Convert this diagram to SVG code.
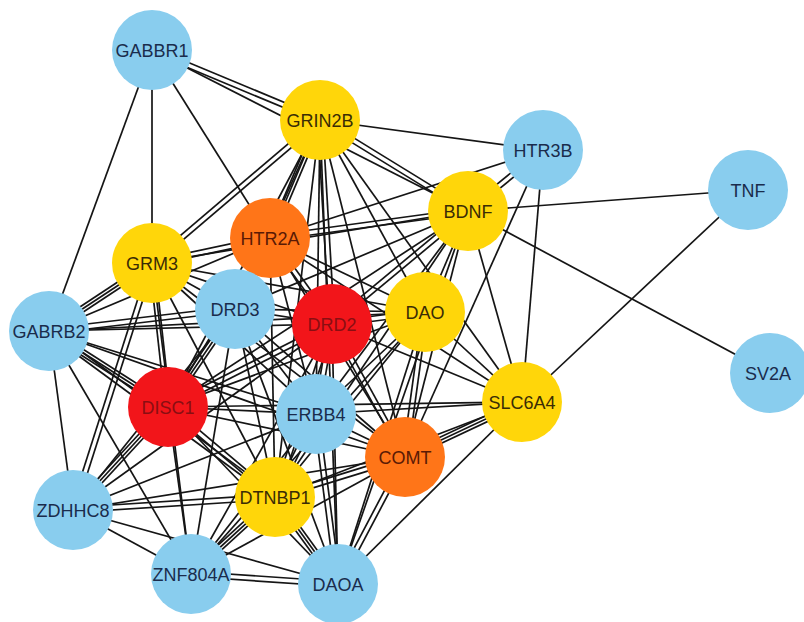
<svg xmlns="http://www.w3.org/2000/svg" width="804" height="622" viewBox="0 0 804 622">
<style>
.e line{stroke:#151515;stroke-width:1.7;fill:none}
.n circle{stroke:none}
.b circle{fill:#89CDEE}
.y circle{fill:#FFD60A}
.o circle{fill:#FF7518}
.r circle{fill:#F2151A}
.n text{font-family:"Liberation Sans",Arial,sans-serif;font-size:18px;text-anchor:middle}
.b text{fill:#1A2C4C}
.y text{fill:#3A2C05}
.o text{fill:#5A1A05}
.r text{fill:#8A0E12}
</style>
<rect width="804" height="622" fill="#ffffff"/>
<g id="edges" class="e">
<!-- multi edges -->
<line x1="151.0" y1="52.3" x2="319.0" y2="122.3"/><line x1="153.0" y1="47.7" x2="321.0" y2="117.7"/>
<line x1="318.4" y1="118.1" x2="150.4" y2="261.1"/><line x1="321.6" y1="121.9" x2="153.6" y2="264.9"/>
<line x1="320" y1="120" x2="270" y2="238"/><line x1="317.2" y1="118.8" x2="267.2" y2="236.8"/><line x1="322.8" y1="121.2" x2="272.8" y2="239.2"/>
<line x1="317.5" y1="120.1" x2="329.5" y2="324.1"/><line x1="322.5" y1="119.9" x2="334.5" y2="323.9"/>
<line x1="318.7" y1="122.1" x2="466.7" y2="213.1"/><line x1="321.3" y1="117.9" x2="469.3" y2="208.9"/>
<line x1="541.4" y1="148.1" x2="466.4" y2="209.1"/><line x1="544.6" y1="151.9" x2="469.6" y2="212.9"/>
<line x1="467.7" y1="208.5" x2="269.7" y2="235.5"/><line x1="468.3" y1="213.5" x2="270.3" y2="240.5"/>
<line x1="466.4" y1="209.1" x2="330.4" y2="322.1"/><line x1="469.6" y1="212.9" x2="333.6" y2="325.9"/>
<line x1="269.5" y1="235.6" x2="151.5" y2="260.6"/><line x1="270.5" y1="240.4" x2="152.5" y2="265.4"/>
<line x1="268.0" y1="239.5" x2="330.0" y2="325.5"/><line x1="272.0" y1="236.5" x2="334.0" y2="322.5"/>
<line x1="152" y1="263" x2="49" y2="331"/><line x1="150.3" y1="260.5" x2="47.3" y2="328.5"/><line x1="153.7" y1="265.5" x2="50.7" y2="333.5"/>
<line x1="149.5" y1="263.3" x2="165.5" y2="407.3"/><line x1="154.5" y1="262.7" x2="170.5" y2="406.7"/>
<line x1="149.6" y1="262.2" x2="70.6" y2="509.2"/><line x1="154.4" y1="263.8" x2="75.4" y2="510.8"/>
<line x1="234.7" y1="306.5" x2="48.7" y2="328.5"/><line x1="235.3" y1="311.5" x2="49.3" y2="333.5"/>
<line x1="235" y1="309" x2="168" y2="407"/><line x1="232.5" y1="307.3" x2="165.5" y2="405.3"/><line x1="237.5" y1="310.7" x2="170.5" y2="408.7"/>
<line x1="332.3" y1="326.5" x2="425.3" y2="314.5"/><line x1="331.7" y1="321.5" x2="424.7" y2="309.5"/>
<line x1="330.9" y1="321.8" x2="166.9" y2="404.8"/><line x1="333.1" y1="326.2" x2="169.1" y2="409.2"/>
<line x1="329.5" y1="323.6" x2="313.5" y2="413.6"/><line x1="334.5" y1="324.4" x2="318.5" y2="414.4"/>
<line x1="329.8" y1="325.2" x2="402.8" y2="458.2"/><line x1="334.2" y1="322.8" x2="407.2" y2="455.8"/>
<line x1="329.6" y1="323.2" x2="272.6" y2="496.2"/><line x1="334.4" y1="324.8" x2="277.4" y2="497.8"/>
<line x1="422.5" y1="311.7" x2="402.5" y2="456.7"/><line x1="427.5" y1="312.3" x2="407.5" y2="457.3"/>
<line x1="49" y1="331" x2="168" y2="407"/><line x1="47.4" y1="333.5" x2="166.4" y2="409.5"/><line x1="50.6" y1="328.5" x2="169.6" y2="404.5"/>
<line x1="47.5" y1="333.0" x2="273.5" y2="499.0"/><line x1="50.5" y1="329.0" x2="276.5" y2="495.0"/>
<line x1="166.4" y1="408.9" x2="273.4" y2="498.9"/><line x1="169.6" y1="405.1" x2="276.6" y2="495.1"/>
<line x1="168" y1="407" x2="73" y2="510"/><line x1="165.8" y1="405.0" x2="70.8" y2="508.0"/><line x1="170.2" y1="409.0" x2="75.2" y2="512.0"/>
<line x1="522" y1="402" x2="405" y2="457"/><line x1="520.7" y1="399.3" x2="403.7" y2="454.3"/><line x1="523.3" y1="404.7" x2="406.3" y2="459.7"/>
<line x1="313.8" y1="412.9" x2="272.8" y2="495.9"/><line x1="318.2" y1="415.1" x2="277.2" y2="498.1"/>
<line x1="313.5" y1="414.3" x2="335.5" y2="584.3"/><line x1="318.5" y1="413.7" x2="340.5" y2="583.7"/>
<line x1="404.3" y1="454.6" x2="274.3" y2="494.6"/><line x1="405.7" y1="459.4" x2="275.7" y2="499.4"/>
<line x1="402.8" y1="455.8" x2="335.8" y2="582.8"/><line x1="407.2" y1="458.2" x2="340.2" y2="585.2"/>
<line x1="274.8" y1="494.5" x2="72.8" y2="507.5"/><line x1="275.2" y1="499.5" x2="73.2" y2="512.5"/>
<line x1="275" y1="497" x2="191" y2="574"/><line x1="273.0" y1="494.8" x2="189.0" y2="571.8"/><line x1="277.0" y1="499.2" x2="193.0" y2="576.2"/>
<line x1="275" y1="497" x2="338" y2="584"/><line x1="272.6" y1="498.8" x2="335.6" y2="585.8"/><line x1="277.4" y1="495.2" x2="340.4" y2="582.2"/>
<line x1="190.8" y1="576.5" x2="337.8" y2="586.5"/><line x1="191.2" y1="571.5" x2="338.2" y2="581.5"/>
<!-- single edges -->
<line x1="152" y1="50" x2="468" y2="211"/>
<line x1="152" y1="50" x2="152" y2="263"/>
<line x1="152" y1="50" x2="49" y2="331"/>
<line x1="152" y1="50" x2="270" y2="238"/>
<line x1="320" y1="120" x2="543" y2="150"/>
<line x1="320" y1="120" x2="316" y2="414"/>
<line x1="320" y1="120" x2="275" y2="497"/>
<line x1="320" y1="120" x2="425" y2="312"/>
<line x1="320" y1="120" x2="522" y2="402"/>
<line x1="320" y1="120" x2="405" y2="457"/>
<line x1="320" y1="120" x2="168" y2="407"/>
<line x1="320" y1="120" x2="338" y2="584"/>
<line x1="320" y1="120" x2="235" y2="309"/>
<line x1="543" y1="150" x2="270" y2="238"/>
<line x1="543" y1="150" x2="405" y2="457"/>
<line x1="543" y1="150" x2="522" y2="402"/>
<line x1="748" y1="190" x2="468" y2="211"/>
<line x1="748" y1="190" x2="522" y2="402"/>
<line x1="468" y1="211" x2="770" y2="373"/>
<line x1="468" y1="211" x2="152" y2="263"/>
<line x1="468" y1="211" x2="235" y2="309"/>
<line x1="468" y1="211" x2="425" y2="312"/>
<line x1="468" y1="211" x2="522" y2="402"/>
<line x1="468" y1="211" x2="405" y2="457"/>
<line x1="468" y1="211" x2="168" y2="407"/>
<line x1="468" y1="211" x2="316" y2="414"/>
<line x1="468" y1="211" x2="275" y2="497"/>
<line x1="468" y1="211" x2="338" y2="584"/>
<line x1="270" y1="238" x2="235" y2="309"/>
<line x1="270" y1="238" x2="425" y2="312"/>
<line x1="270" y1="238" x2="168" y2="407"/>
<line x1="270" y1="238" x2="316" y2="414"/>
<line x1="270" y1="238" x2="405" y2="457"/>
<line x1="270" y1="238" x2="275" y2="497"/>
<line x1="270" y1="238" x2="522" y2="402"/>
<line x1="270" y1="238" x2="49" y2="331"/>
<line x1="152" y1="263" x2="235" y2="309"/>
<line x1="152" y1="263" x2="332" y2="324"/>
<line x1="152" y1="263" x2="425" y2="312"/>
<line x1="152" y1="263" x2="316" y2="414"/>
<line x1="152" y1="263" x2="405" y2="457"/>
<line x1="152" y1="263" x2="275" y2="497"/>
<line x1="152" y1="263" x2="191" y2="574"/>
<line x1="235" y1="309" x2="332" y2="324"/>
<line x1="235" y1="309" x2="316" y2="414"/>
<line x1="235" y1="309" x2="275" y2="497"/>
<line x1="235" y1="309" x2="405" y2="457"/>
<line x1="235" y1="309" x2="425" y2="312"/>
<line x1="235" y1="309" x2="73" y2="510"/>
<line x1="235" y1="309" x2="191" y2="574"/>
<line x1="235" y1="309" x2="338" y2="584"/>
<line x1="332" y1="324" x2="49" y2="331"/>
<line x1="332" y1="324" x2="522" y2="402"/>
<line x1="332" y1="324" x2="73" y2="510"/>
<line x1="332" y1="324" x2="191" y2="574"/>
<line x1="332" y1="324" x2="338" y2="584"/>
<line x1="425" y1="312" x2="49" y2="331"/>
<line x1="425" y1="312" x2="168" y2="407"/>
<line x1="425" y1="312" x2="316" y2="414"/>
<line x1="425" y1="312" x2="275" y2="497"/>
<line x1="425" y1="312" x2="522" y2="402"/>
<line x1="425" y1="312" x2="191" y2="574"/>
<line x1="425" y1="312" x2="338" y2="584"/>
<line x1="49" y1="331" x2="73" y2="510"/>
<line x1="49" y1="331" x2="191" y2="574"/>
<line x1="49" y1="331" x2="316" y2="414"/>
<line x1="49" y1="331" x2="405" y2="457"/>
<line x1="168" y1="407" x2="316" y2="414"/>
<line x1="168" y1="407" x2="522" y2="402"/>
<line x1="168" y1="407" x2="405" y2="457"/>
<line x1="168" y1="407" x2="191" y2="574"/>
<line x1="168" y1="407" x2="338" y2="584"/>
<line x1="522" y1="402" x2="338" y2="584"/>
<line x1="522" y1="402" x2="316" y2="414"/>
<line x1="522" y1="402" x2="275" y2="497"/>
<line x1="316" y1="414" x2="405" y2="457"/>
<line x1="316" y1="414" x2="73" y2="510"/>
<line x1="316" y1="414" x2="191" y2="574"/>
<line x1="405" y1="457" x2="73" y2="510"/>
<line x1="405" y1="457" x2="191" y2="574"/>
<line x1="73" y1="510" x2="191" y2="574"/>
<line x1="73" y1="510" x2="338" y2="584"/>
</g>
<g id="node-GABBR1" class="n b"><circle cx="152" cy="50" r="40"/><text x="152" y="56.5">GABBR1</text></g>
<g id="node-GRIN2B" class="n y"><circle cx="320" cy="120" r="40"/><text x="320" y="126.5">GRIN2B</text></g>
<g id="node-HTR3B" class="n b"><circle cx="543" cy="150" r="40"/><text x="543" y="156.5">HTR3B</text></g>
<g id="node-TNF" class="n b"><circle cx="748" cy="190" r="40"/><text x="748" y="196.5">TNF</text></g>
<g id="node-BDNF" class="n y"><circle cx="468" cy="211" r="40"/><text x="468" y="217.5">BDNF</text></g>
<g id="node-HTR2A" class="n o"><circle cx="270" cy="238" r="40"/><text x="270" y="244.5">HTR2A</text></g>
<g id="node-GRM3" class="n y"><circle cx="152" cy="263" r="40"/><text x="152" y="269.5">GRM3</text></g>
<g id="node-DRD3" class="n b"><circle cx="235" cy="309" r="40"/><text x="235" y="315.5">DRD3</text></g>
<g id="node-DRD2" class="n r"><circle cx="332" cy="324" r="40"/><text x="332" y="330.5">DRD2</text></g>
<g id="node-DAO" class="n y"><circle cx="425" cy="312" r="40"/><text x="425" y="318.5">DAO</text></g>
<g id="node-GABRB2" class="n b"><circle cx="49" cy="331" r="40"/><text x="49" y="337.5">GABRB2</text></g>
<g id="node-SV2A" class="n b"><circle cx="770" cy="373" r="40"/><text x="768" y="379.5">SV2A</text></g>
<g id="node-DISC1" class="n r"><circle cx="168" cy="407" r="40"/><text x="168" y="413.5">DISC1</text></g>
<g id="node-SLC6A4" class="n y"><circle cx="522" cy="402" r="40"/><text x="522" y="408.5">SLC6A4</text></g>
<g id="node-ERBB4" class="n b"><circle cx="316" cy="414" r="40"/><text x="316" y="420.5">ERBB4</text></g>
<g id="node-COMT" class="n o"><circle cx="405" cy="457" r="40"/><text x="405" y="463.5">COMT</text></g>
<g id="node-DTNBP1" class="n y"><circle cx="275" cy="497" r="40"/><text x="275" y="503.5">DTNBP1</text></g>
<g id="node-ZDHHC8" class="n b"><circle cx="73" cy="510" r="40"/><text x="73" y="516.5">ZDHHC8</text></g>
<g id="node-ZNF804A" class="n b"><circle cx="191" cy="574" r="40"/><text x="191" y="580.5">ZNF804A</text></g>
<g id="node-DAOA" class="n b"><circle cx="338" cy="584" r="40"/><text x="338" y="590.5">DAOA</text></g>
</svg>
